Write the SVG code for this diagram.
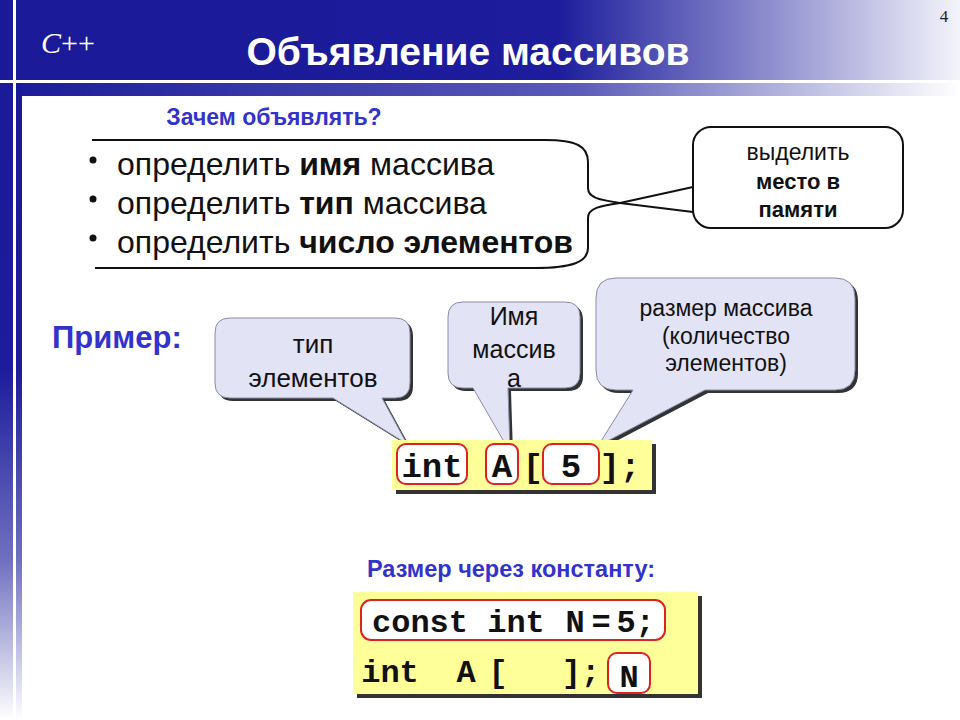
<svg xmlns="http://www.w3.org/2000/svg" width="960" height="720" viewBox="0 0 960 720">
<defs>
<linearGradient id="hdr" x1="0" y1="0" x2="1" y2="0">
<stop offset="0" stop-color="#1a1a99"/>
<stop offset="0.58" stop-color="#1c1c9c"/>
<stop offset="1" stop-color="#f4f4fb"/>
</linearGradient>
<linearGradient id="strip" x1="0" y1="0" x2="1" y2="0">
<stop offset="0" stop-color="#1a1a99"/>
<stop offset="0.6" stop-color="#5a5ab8"/>
<stop offset="1" stop-color="#ffffff"/>
</linearGradient>
<linearGradient id="side" x1="0" y1="0" x2="0" y2="1">
<stop offset="0" stop-color="#1a1a99"/>
<stop offset="0.45" stop-color="#1c1c9c"/>
<stop offset="0.75" stop-color="#7070c0"/>
<stop offset="1" stop-color="#ffffff"/>
</linearGradient>
<style>
.sans{font-family:"Liberation Sans",Arial,sans-serif}
.mono{font-family:"Liberation Mono","Courier New",monospace;font-weight:bold;fill:#111}
.blue{fill:#3333cc;font-weight:bold}
.co{fill:#e3e3f6;stroke:#8a8aa8;stroke-width:1}
.sh{fill:#333}
.cot{font-family:"Liberation Sans",Arial,sans-serif;fill:#111;text-anchor:middle}
.code{fill:#ffff99}
.red{fill:#ffffff;stroke:#dd2222;stroke-width:2}
.ln{fill:none;stroke:#111;stroke-width:2}
</style>
</defs>
<rect width="960" height="720" fill="#ffffff"/>
<g id="frame">
<rect x="0" y="0" width="960" height="80" fill="url(#hdr)"/>
<rect x="0" y="83" width="960" height="13" fill="url(#strip)"/>
<rect x="0" y="83" width="22" height="637" fill="url(#side)"/>
<rect x="0" y="80" width="960" height="3" fill="#ffffff"/>
<rect x="13" y="0" width="3" height="720" fill="#ffffff"/>
<text x="41" y="53" fill="#ffffff" font-family="Liberation Serif,serif" font-size="30"><tspan font-style="italic">C</tspan>++</text>
<text x="468" y="65" fill="#ffffff" class="sans" font-weight="bold" font-size="39" text-anchor="middle">Объявление массивов</text>
<text x="944" y="22" fill="#222" font-family="Liberation Serif,serif" font-size="17" text-anchor="middle">4</text>
</g>
<g id="why">
<text x="274" y="125" class="sans blue" font-size="23" text-anchor="middle">Зачем объявлять?</text>
<g fill="#111">
<circle cx="93" cy="160" r="3.5"/>
<circle cx="93" cy="199" r="3.5"/>
<circle cx="93" cy="238" r="3.5"/>
</g>
<g class="sans" font-size="32" fill="#111">
<text x="117" y="175">определить <tspan font-weight="bold">имя</tspan> массива</text>
<text x="117" y="214">определить <tspan font-weight="bold">тип</tspan> массива</text>
<text x="117" y="253">определить <tspan font-weight="bold">число элементов</tspan></text>
</g>
</g>
<g id="connectors">
<path class="ln" d="M 92 140 L 545 140 C 576 140 588 146 588 162 L 588 188 C 588 198 600 200 620 203 L 693 212"/>
<path class="ln" d="M 95 268 L 535 268 C 572 268 588 262 588 248 L 588 218 C 588 208 600 206 620 203 L 693 187"/>
</g>
<g id="memory">
<rect x="693" y="127" width="210" height="101" rx="18" fill="#ffffff" stroke="#111" stroke-width="2"/>
<text x="798" y="160" class="cot" font-size="23">выделить</text>
<text x="798" y="189" class="cot" font-size="22" font-weight="bold">место в</text>
<text x="798" y="217" class="cot" font-size="22" font-weight="bold">памяти</text>
</g>
<g id="example">
<text x="52" y="348" class="sans blue" font-size="31">Пример:</text>
</g>
<g id="callout-type">
<path class="sh" transform="translate(3,3)" d="M 230 318 H 395 Q 410 318 410 333 V 383 Q 410 398 395 398 H 382 L 407 444 L 333 398 H 230 Q 215 398 215 383 V 333 Q 215 318 230 318 Z"/>
<path class="co" d="M 230 318 H 395 Q 410 318 410 333 V 383 Q 410 398 395 398 H 382 L 407 444 L 333 398 H 230 Q 215 398 215 383 V 333 Q 215 318 230 318 Z"/>
<text x="313" y="353" class="cot" font-size="26">тип</text>
<text x="313" y="387" class="cot" font-size="26">элементов</text>
</g>
<g id="callout-name">
<path class="sh" transform="translate(3,3)" d="M 463 302 H 565 Q 580 302 580 317 V 373 Q 580 388 565 388 H 508 L 510 452 L 473 388 H 463 Q 448 388 448 373 V 317 Q 448 302 463 302 Z"/>
<path class="co" d="M 463 302 H 565 Q 580 302 580 317 V 373 Q 580 388 565 388 H 508 L 510 452 L 473 388 H 463 Q 448 388 448 373 V 317 Q 448 302 463 302 Z"/>
<text x="514" y="325" class="cot" font-size="25">Имя</text>
<text x="514" y="358" class="cot" font-size="25">массив</text>
<text x="514" y="387" class="cot" font-size="25">а</text>
</g>
<g id="callout-size">
<path class="sh" transform="translate(3,3)" d="M 616 278 H 835 Q 855 278 855 298 V 370 Q 855 390 835 390 H 705 L 598 446 L 633 390 H 616 Q 596 390 596 370 V 298 Q 596 278 616 278 Z"/>
<path class="co" d="M 616 278 H 835 Q 855 278 855 298 V 370 Q 855 390 835 390 H 705 L 598 446 L 633 390 H 616 Q 596 390 596 370 V 298 Q 596 278 616 278 Z"/>
<text x="726" y="316" class="cot" font-size="23">размер массива</text>
<text x="726" y="344" class="cot" font-size="23">(количество</text>
<text x="726" y="371" class="cot" font-size="23">элементов)</text>
</g>
<g id="code1">
<rect x="396" y="444" width="260" height="50" class="sh"/>
<rect x="392" y="440" width="260" height="50" class="code"/>
<rect x="397" y="444" width="70" height="40" rx="9" class="red"/>
<rect x="486" y="444" width="32" height="40" rx="8" class="red"/>
<rect x="543" y="444" width="56" height="40" rx="9" class="red"/>
<g class="mono" font-size="34" text-anchor="middle">
<text x="432" y="477">int</text>
<text x="502" y="477">A</text>
<text x="533" y="477">[</text>
<text x="571" y="477">5</text>
<text x="620" y="477">];</text>
</g>
</g>
<g id="const">
<text x="367" y="577" class="sans blue" font-size="23.5">Размер через константу:</text>
</g>
<g id="code2">
<rect x="357" y="596" width="345" height="102" class="sh"/>
<rect x="353" y="592" width="345" height="102" class="code"/>
<rect x="361" y="600" width="304" height="40" rx="10" class="red"/>
<rect x="608" y="653" width="42" height="40" rx="9" class="red"/>
<g class="mono" font-size="32" text-anchor="middle">
<text x="420" y="632">const</text>
<text x="516" y="632">int</text>
<text x="575" y="632">N</text>
<text x="601" y="632">=</text>
<text x="626" y="632">5</text>
<text x="645" y="632">;</text>
<text x="390" y="682">int</text>
<text x="466" y="682">A</text>
<text x="498" y="682">[</text>
<text x="581" y="682">];</text>
<text x="629" y="687">N</text>
</g>
</g>
</svg>
